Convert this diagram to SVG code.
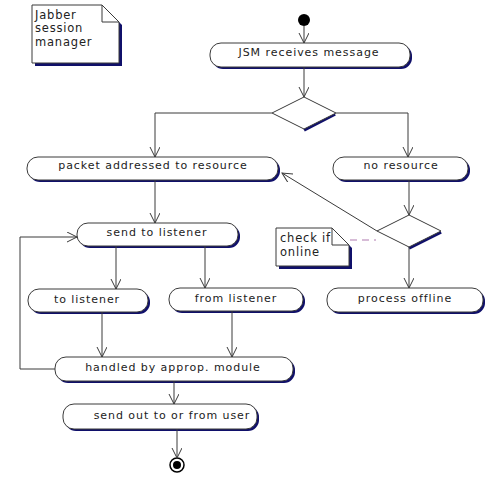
<svg xmlns="http://www.w3.org/2000/svg" width="491" height="480" viewBox="0 0 491 480">
<defs>
<style>
.sh{fill:#10106a;stroke:none}
.act{fill:#fff;stroke:#3a3a3a;stroke-width:1}
.t{font-family:"DejaVu Sans",Verdana,sans-serif;font-size:11px;letter-spacing:0.95px;fill:#222;text-anchor:middle}
.tn{font-family:"DejaVu Sans",Verdana,sans-serif;font-size:11.5px;letter-spacing:0.8px;fill:#222}
.c{fill:none;stroke:#3a3a3a;stroke-width:1}
.dsh{fill:none;stroke:#10106a;stroke-width:3.5}
</style>
<marker id="ar" markerWidth="12" markerHeight="12" refX="10" refY="5" orient="auto" markerUnits="userSpaceOnUse">
<path d="M0,0 L10,5 L0,10" fill="none" stroke="#3a3a3a" stroke-width="1"/>
</marker>
</defs>
<rect width="491" height="480" fill="#fff"/>

<g id="note-jabber">
<path class="sh" d="M35,8 H105 L122,25 V66 H35 Z"/>
<path class="act" d="M32,5 H102 L119,22 V63 H32 Z"/>
<path class="c" d="M102,5 V22 H119"/>
<text class="tn" x="35" y="19">Jabber</text>
<text class="tn" x="35" y="32">session</text>
<text class="tn" x="35" y="46">manager</text>
</g>

<g id="start"><circle cx="304" cy="20" r="6" fill="#000"/></g>

<g id="jsm">
<rect class="sh" x="212" y="45" width="200" height="24" rx="11"/>
<rect class="act" x="210" y="43" width="200" height="24" rx="11"/>
<text class="t" x="309" y="56">JSM receives message</text>
</g>

<g id="decision1">
<path class="dsh" d="M335,114 L304,130"/>
<polygon class="act" points="272,113 304,97 336,113 304,129"/>
</g>

<g id="packet">
<rect class="sh" x="29" y="159" width="251" height="23" rx="11"/>
<rect class="act" x="27" y="157" width="251" height="23" rx="11"/>
<text class="t" x="153" y="169">packet addressed to resource</text>
</g>

<g id="noresource">
<rect class="sh" x="335" y="159" width="135" height="23" rx="11"/>
<rect class="act" x="333" y="157" width="135" height="23" rx="11"/>
<text class="t" x="401" y="169">no resource</text>
</g>

<g id="decision2">
<path class="dsh" d="M441,232 L409,248"/>
<polygon class="act" points="377,231 409,215 441,231 409,247"/>
</g>

<g id="note-check">
<path class="sh" d="M279,231 H335 L352,248 V269 H279 Z"/>
<path class="act" d="M276,228 H332 L349,245 V266 H276 Z"/>
<path class="c" d="M332,228 V245 H349"/>
<text class="tn" x="280" y="242">check if</text>
<text class="tn" x="280" y="256">online</text>
</g>

<g id="sendlistener">
<rect class="sh" x="79" y="225" width="161" height="23" rx="11"/>
<rect class="act" x="77" y="223" width="161" height="23" rx="11"/>
<text class="t" x="157" y="236">send to listener</text>
</g>

<g id="tolistener">
<rect class="sh" x="30" y="291" width="120" height="23" rx="11"/>
<rect class="act" x="28" y="289" width="120" height="23" rx="11"/>
<text class="t" x="87" y="303">to listener</text>
</g>

<g id="fromlistener">
<rect class="sh" x="171" y="290" width="134" height="23" rx="11"/>
<rect class="act" x="169" y="288" width="134" height="23" rx="11"/>
<text class="t" x="236" y="302">from listener</text>
</g>

<g id="processoffline">
<rect class="sh" x="329" y="290" width="156" height="24" rx="11"/>
<rect class="act" x="327" y="288" width="156" height="24" rx="11"/>
<text class="t" x="405" y="302">process offline</text>
</g>

<g id="handled">
<rect class="sh" x="57" y="359" width="238" height="24" rx="11"/>
<rect class="act" x="55" y="357" width="238" height="24" rx="11"/>
<text class="t" x="173" y="371">handled by approp. module</text>
</g>

<g id="sendout">
<rect class="sh" x="65" y="406" width="194" height="25" rx="11"/>
<rect class="act" x="63" y="404" width="194" height="25" rx="11"/>
<text class="t" x="172" y="419">send out to or from user</text>
</g>

<g id="end">
<circle cx="177" cy="465" r="7" fill="#fff" stroke="#000" stroke-width="1.5"/>
<circle cx="177" cy="465" r="4" fill="#000"/>
</g>

<g id="connectors">
<path class="c" d="M304,26 V43" marker-end="url(#ar)"/>
<path class="c" d="M304,67 V97" marker-end="url(#ar)"/>
<path class="c" d="M272,113 H155 V157" marker-end="url(#ar)"/>
<path class="c" d="M336,113 H408 V157" marker-end="url(#ar)"/>
<path class="c" d="M155,180 V223" marker-end="url(#ar)"/>
<path class="c" d="M409,180 V215" marker-end="url(#ar)"/>
<path class="c" d="M409,247 V288" marker-end="url(#ar)"/>
<path class="c" d="M377,231 L282,173" marker-end="url(#ar)"/>
<path class="c" d="M116,246 V289" marker-end="url(#ar)"/>
<path class="c" d="M205,246 V288" marker-end="url(#ar)"/>
<path class="c" d="M102,312 V357" marker-end="url(#ar)"/>
<path class="c" d="M232,311 V357" marker-end="url(#ar)"/>
<path class="c" d="M174,381 V404" marker-end="url(#ar)"/>
<path class="c" d="M177,429 V458" marker-end="url(#ar)"/>
<path class="c" d="M55,369 H20 V237 H77" marker-end="url(#ar)"/>
<path d="M350,240 H376" fill="none" stroke="#b07ab0" stroke-width="1.2" stroke-dasharray="7,5"/>
</g>
</svg>
